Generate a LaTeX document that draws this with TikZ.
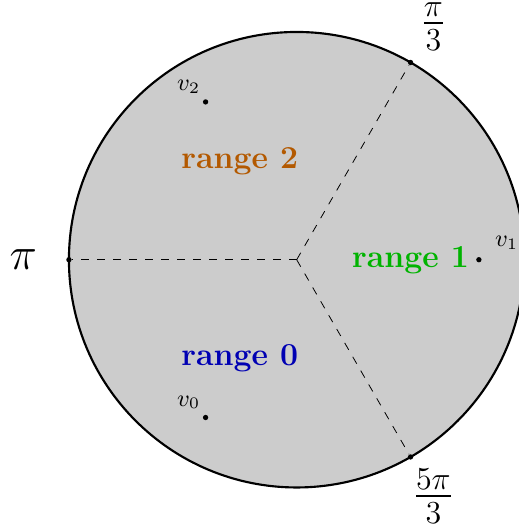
\documentclass[tikz,border=0pt]{standalone}
\usepackage{amsmath,amssymb}
\usepackage{tikz}
\usetikzlibrary{positioning}
\usepackage{xcolor}
\definecolor{RangeZero}{HTML}{0000B3}
\definecolor{RangeOne}{HTML}{00B300}
\definecolor{RangeTwo}{HTML}{B35900}
\definecolor{DiskFill}{HTML}{CCCCCC}

\begin{document}
\begin{tikzpicture}[
  x=1cm,y=1cm,
  disk/.style={draw=black,fill=DiskFill,thick},
  divider/.style={draw=black,dashed,line width=0.3pt},
  dot/.style={circle,fill=black,inner sep=0pt,minimum size=2pt},
  anglab/.style={font=\LARGE,inner sep=1pt},
  rangelab/.style={font=\large\bfseries},
  vlab/.style={font=\small,inner sep=1pt}
]
\useasboundingbox (-3.908,-3.547) rectangle (2.928,3.421);

% unit disk split into three sectors by the dashed rays
\draw[disk] (0,0) circle (3);
\coordinate (O) at (0,0);

\node[dot] (b60) at (60:3) {};
\node[dot] (b180) at (180:3) {};
\node[dot] (b300) at (300:3) {};

\draw[divider] (O) -- (b60);
\draw[divider] (O) -- (b180);
\draw[divider] (O) -- (b300);

\node[anglab,yshift=-1.2pt] (a60) at (60:3.6) {$\frac{\pi}{3}$};
\node[anglab] (a180) at (180:3.6) {$\pi$};
\node[anglab] (a300) at (300:3.6) {$\frac{5\pi}{3}$};

% sector labels
\node[rangelab,text=RangeZero] (r0) at (240:1.5) {range 0};
\node[rangelab,text=RangeOne] (r1) at (0:1.5) {range 1};
\node[rangelab,text=RangeTwo] (r2) at (120:1.5) {range 2};

% sample points
\node[dot] (v0) at (240:2.4) {};
\node[dot] (v1) at (0:2.4) {};
\node[dot] (v2) at (120:2.4) {};
\node[vlab,above left=1.2pt and 0pt of v0] (v0lab) {$v_0$};
\node[vlab,above right=1.8pt and 4pt of v1] (v1lab) {$v_1$};
\node[vlab,above left=1.2pt and 0pt of v2] (v2lab) {$v_2$};

\end{tikzpicture}
\end{document}
